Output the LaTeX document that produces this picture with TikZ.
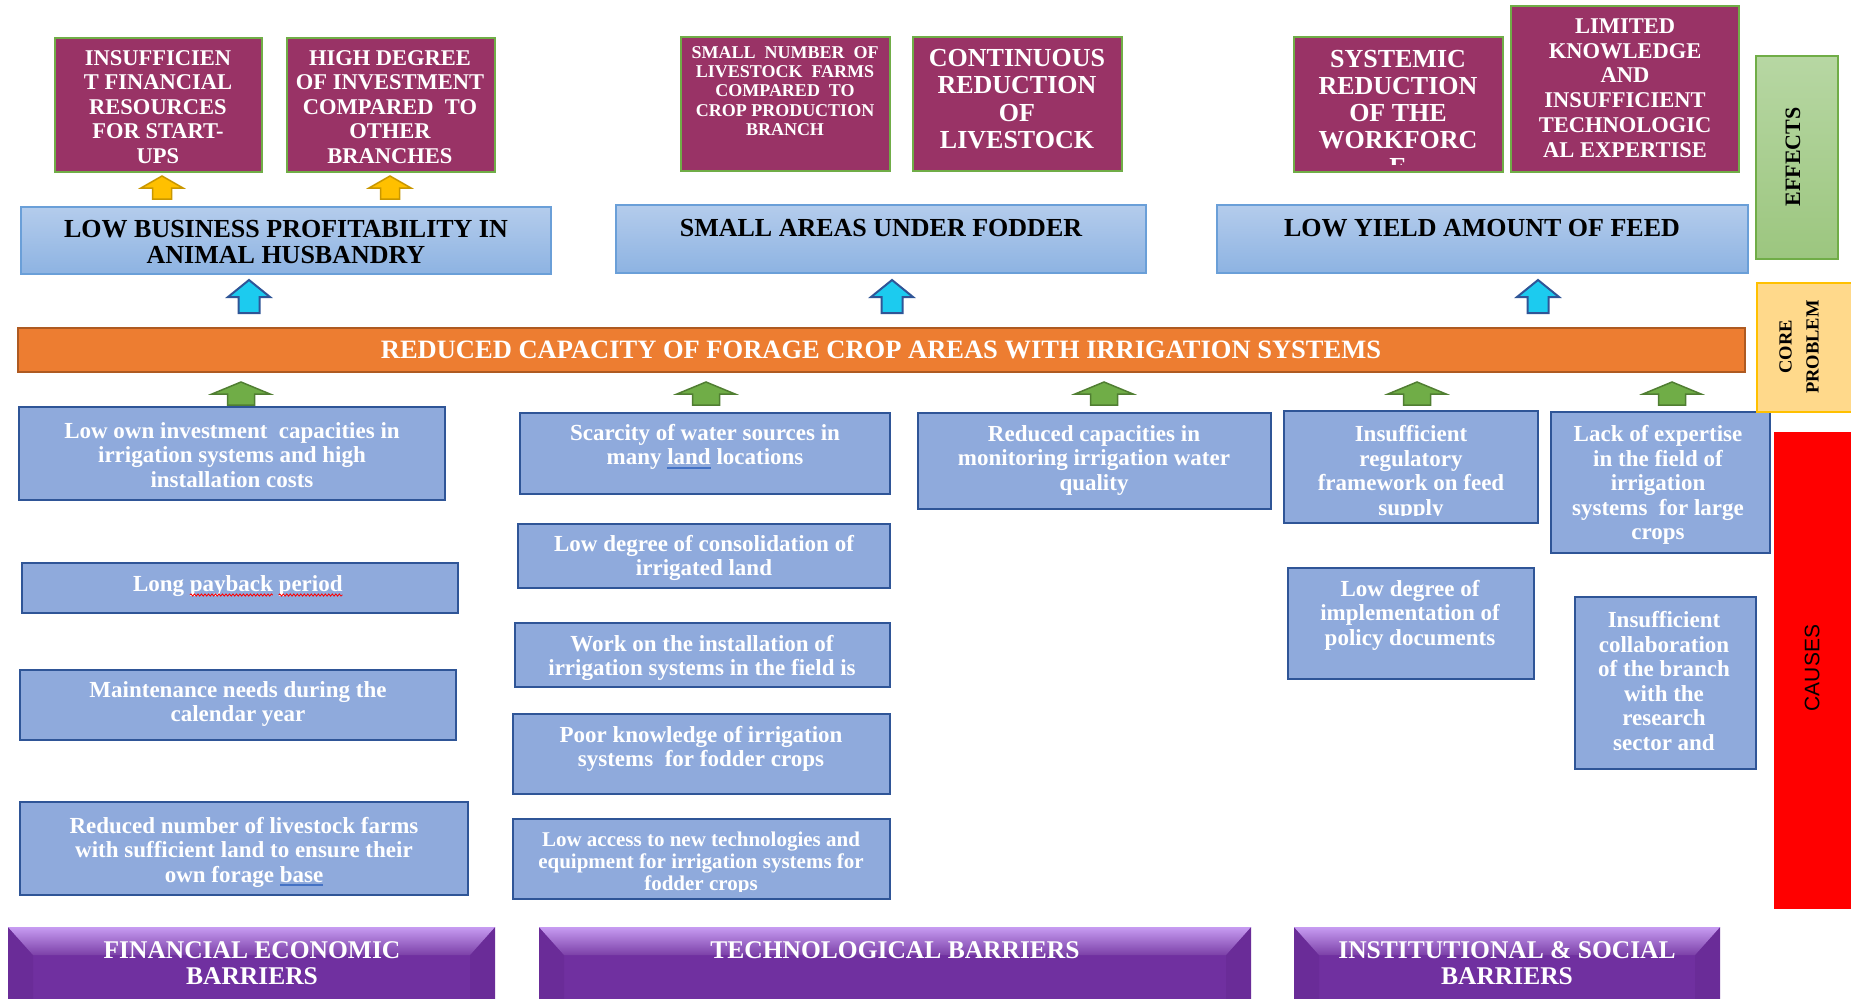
\documentclass[tikz,border=0pt]{standalone}
\usepackage{fontspec}
\setmainfont{Liberation Serif}
\newfontfamily\labelsans{Liberation Sans}
\usetikzlibrary{calc,decorations.pathmorphing}

% palette
\definecolor{effmaroon}{HTML}{993366}
\definecolor{effgreen}{HTML}{70AD47}
\definecolor{blueTop}{HTML}{B4CCEC}
\definecolor{blueBot}{HTML}{8DB3E2}
\definecolor{blueEdge}{HTML}{6A9FD8}
\definecolor{coreOrange}{HTML}{ED7D31}
\definecolor{coreEdge}{HTML}{AE5A21}
\definecolor{causeFill}{HTML}{8FAADC}
\definecolor{causeEdge}{HTML}{2F5597}
\definecolor{arrowYellow}{HTML}{FFC000}
\definecolor{arrowYellowEdge}{HTML}{C99700}
\definecolor{arrowCyan}{HTML}{1CCBEF}
\definecolor{arrowCyanEdge}{HTML}{2F5597}
\definecolor{arrowGreen}{HTML}{70AD47}
\definecolor{arrowGreenEdge}{HTML}{507E32}
\definecolor{purpleMain}{HTML}{7030A0}
\definecolor{purpleSide}{HTML}{6A2C98}
\definecolor{purpleLight}{HTML}{C79CF2}
\definecolor{effectsTop}{HTML}{B7D7A3}
\definecolor{effectsBot}{HTML}{9CC67F}
\definecolor{coreLabel}{HTML}{FFD98B}
\definecolor{coreLabelEdge}{HTML}{FFC000}
\definecolor{causesRed}{HTML}{FF0000}
\definecolor{spellBlue}{HTML}{4472C4}

% straight proofing mark under a single word
\newsavebox\markbox
\newcommand\spellline[1]{\sbox\markbox{#1}%
  \rlap{\textcolor{spellBlue}{\rule[-4pt]{\wd\markbox}{1.8pt}}}\usebox\markbox}

\newcommand\fs[2]{\fontsize{#1}{#2}\selectfont}

% text kept inside its box (overflowing lines are cut at the bottom)
\newcommand\clippedtext[4]{%
  \begin{scope}
    \clip ($(#1.north west)+(2,2)$) rectangle ($(#1.south east)+(-2,-8)$);
    \node[#2] (#1t) at #3 {#4};
  \end{scope}}

\tikzset{
  every node/.style={outer sep=0pt},
  effbox/.style={draw=effgreen, line width=2pt, fill=effmaroon, inner sep=0pt, anchor=north west},
  efftext/.style 2 args={text=white, align=center, inner sep=0pt, font=\bfseries\fs{#1}{#2}},
  resultbox/.style={draw=blueEdge, line width=1.5pt, top color=blueTop, bottom color=blueBot, inner sep=0pt, anchor=north west},
  resulttext/.style={text=black, align=center, inner sep=0pt, font=\bfseries\fs{26}{26.5}},
  corebar/.style={draw=coreEdge, line width=2pt, fill=coreOrange, inner sep=0pt, anchor=north west},
  causebox/.style={draw=causeEdge, line width=2.5pt, fill=causeFill, inner sep=0pt, anchor=north west},
  causetext/.style={text=white, align=center, inner sep=0pt, font=\bfseries\fs{23}{24.5}},
  wordtext/.style={text=white, inner sep=0pt, anchor=base west, font=\bfseries\fs{23}{24.5}},
  spellmark/.style={red, line width=0.8pt, decorate, decoration={snake, amplitude=1.1pt, segment length=3.5pt}},
  barrier/.style={fill=purpleMain, inner sep=0pt, anchor=north west},
  barriertext/.style={text=white, align=center, inner sep=0pt, font=\bfseries\fs{25.5}{26}},
  sidebox/.style={inner sep=0pt, anchor=north west, line width=2pt},
  yellowup/.style={fill=arrowYellow, draw=arrowYellowEdge, line width=1.5pt},
  cyanup/.style={fill=arrowCyan, draw=arrowCyanEdge, line width=2pt},
  greenup/.style={fill=arrowGreen, draw=arrowGreenEdge, line width=1.5pt},
  % block arrow pointing up: total height / head height / head half width / shaft half width
  pics/blockup/.style args={#1/#2/#3/#4}{code={
    \path[pic actions] (-#4,0) -- (-#4,#2-#1) -- (-#3,#2-#1) -- (0,-#1)
      -- (#3,#2-#1) -- (#4,#2-#1) -- (#4,0) -- cycle;
  }},
}

\begin{document}
\begin{tikzpicture}[x=1pt, y=-1pt]
\useasboundingbox (0,0) rectangle (1851,998);
\fill[white] (0,0) rectangle (1851,998);

% ---------- effects ----------
\node[effbox, minimum width=207pt, minimum height=134pt] (m1) at (55,38) {};
\node[effbox, minimum width=208pt, minimum height=134pt] (m2) at (287,38) {};
\node[effbox, minimum width=209pt, minimum height=134pt] (m3) at (681,37) {};
\node[effbox, minimum width=209pt, minimum height=134pt] (m4) at (913,37) {};
\node[effbox, minimum width=209pt, minimum height=135pt] (m5) at (1294,37) {};
\node[effbox, minimum width=228pt, minimum height=166pt] (m6) at (1511,6) {};

\node[efftext={22.5}{24.5}] (m1t) at (158,107) {INSUFFICIEN\\T FINANCIAL\\RESOURCES\\FOR START-\\UPS};
\node[efftext={22.5}{24.5}] (m2t) at (390,107) {HIGH DEGREE\\OF INVESTMENT\\COMPARED\ \ TO\\OTHER\\BRANCHES};
\node[efftext={18}{19.3}] (m3t) at (785,91) {SMALL\ \ NUMBER\ \ OF\\LIVESTOCK\ \ FARMS\\COMPARED\ \ TO\\CROP PRODUCTION\\BRANCH};
\node[efftext={26}{27.5}] (m4t) at (1017,99) {CONTINUOUS\\REDUCTION\\OF\\LIVESTOCK};
\clippedtext{m5}{efftext={26}{27}}{(1398,113)}{SYSTEMIC\\REDUCTION\\OF THE\\WORKFORC\\E}
\node[efftext={22.5}{24.7}] (m6t) at (1625,88) {LIMITED\\KNOWLEDGE\\AND\\INSUFFICIENT\\TECHNOLOGIC\\AL EXPERTISE};

\pic[yellowup] at (162,199) {blockup=23/12/21/9.5};
\pic[yellowup] at (390,199) {blockup=23/12/21/9.5};

\node[resultbox, minimum width=530pt, minimum height=67pt] (e1) at (21,207) {};
\node[resultbox, minimum width=530pt, minimum height=68pt] (e2) at (616,205) {};
\node[resultbox, minimum width=531pt, minimum height=68pt] (e3) at (1217,205) {};
\node[resulttext] (e1t) at (286,242) {LOW BUSINESS PROFITABILITY IN\\ANIMAL HUSBANDRY};
\node[resulttext] (e2t) at (881,228) {SMALL AREAS UNDER FODDER};
\node[resulttext] (e3t) at (1482,228) {LOW YIELD AMOUNT OF FEED};

\pic[cyanup] at (249,313) {blockup=33/17/21/10.5};
\pic[cyanup] at (892,313) {blockup=33/17/21/10.5};
\pic[cyanup] at (1538,313) {blockup=33/17/21/10.5};

% ---------- core problem ----------
\node[corebar, minimum width=1727pt, minimum height=44pt] (core) at (18,328) {};
\node[text=white, inner sep=0pt, font=\bfseries\fs{26.5}{28}] (coret) at (881,350)
  {REDUCED CAPACITY OF FORAGE CROP AREAS WITH IRRIGATION SYSTEMS};

\foreach \ax in {241,706,1104,1417,1672}
  \pic[greenup] at (\ax,405) {blockup=23/12/29/13.5};

% ---------- causes ----------
\node[causebox, minimum width=426pt, minimum height=93pt] (c11) at (19,407) {};
\node[causebox, minimum width=436pt, minimum height=50pt] (c12) at (22,563) {};
\node[causebox, minimum width=436pt, minimum height=70pt] (c13) at (20,670) {};
\node[causebox, minimum width=448pt, minimum height=93pt] (c14) at (20,802) {};

\node[causebox, minimum width=370pt, minimum height=81pt] (c21) at (520,413) {};
\node[causebox, minimum width=372pt, minimum height=64pt] (c22) at (518,524) {};
\node[causebox, minimum width=375pt, minimum height=64pt] (c23) at (515,623) {};
\node[causebox, minimum width=377pt, minimum height=80pt] (c24) at (513,714) {};
\node[causebox, minimum width=377pt, minimum height=80pt] (c25) at (513,819) {};

\node[causebox, minimum width=353pt, minimum height=96pt] (c31) at (918,413) {};

\node[causebox, minimum width=254pt, minimum height=112pt] (c41) at (1284,411) {};
\node[causebox, minimum width=246pt, minimum height=111pt] (c42) at (1288,568) {};

\node[causebox, minimum width=219pt, minimum height=141pt] (c51) at (1551,412) {};
\node[causebox, minimum width=181pt, minimum height=172pt] (c52) at (1575,597) {};

\node[causetext] (c11t) at (232,455) {Low\ own\ investment\ \ capacities\ in\\irrigation\ systems\ and high\\installation\ costs};

% one word per node so that the proofing squiggles can sit under two of them
\node[wordtext] (c12w1) at (133,591) {Long};
\node[wordtext] (c12w2) at ($(c12w1.base east)+(5.75,0)$) {payback};
\node[wordtext] (c12w3) at ($(c12w2.base east)+(5.75,0)$) {period};
\draw[spellmark] ($(c12w2.base west)+(0,4)$) -- ($(c12w2.base east)+(0,4)$);
\draw[spellmark] ($(c12w3.base west)+(0,4)$) -- ($(c12w3.base east)+(0,4)$);

\node[causetext] (c13t) at (238,704) {Maintenance\ needs\ during\ the\\calendar\ year};
\clippedtext{c14}{causetext}{(244,852)}{Reduced\ number\ of livestock\ farms\\with sufficient land to ensure\ their\\own forage \spellline{base}}

\node[causetext] (c21t) at (705,447) {Scarcity\ of water\ sources\ in\\many \spellline{land} locations};
\node[causetext] (c22t) at (704,558) {Low\ degree\ of consolidation\ of\\irrigated\ land};
\clippedtext{c23}{causetext}{(702,658)}{Work\ on the installation of\\irrigation\ systems\ in the field is}
\node[causetext] (c24t) at (701,749) {Poor knowledge\ of irrigation\\systems\ \ for fodder crops};
\clippedtext{c25}{causetext, font=\bfseries\fs{21}{22}}{(701,863)}{Low access to new technologies and\\equipment for irrigation systems for\\fodder crops}

\node[causetext] (c31t) at (1094,460) {Reduced\ capacities\ in\\monitoring irrigation\ water\\quality};

\clippedtext{c41}{causetext}{(1411,473)}{Insufficient\\regulatory\\framework\ on feed\\supply}
\node[causetext] (c42t) at (1410,615) {Low\ degree of\\implementation\ of\\policy documents};

\node[causetext] (c51t) at (1658,485) {Lack\ of expertise\\in the field of\\irrigation\\systems\ \ for large\\crops};
\clippedtext{c52}{causetext}{(1664,681)}{Insufficient\\collaboration\\of the branch\\with the\\research\\sector and}

% ---------- side labels ----------
\node[sidebox, draw=effgreen, top color=effectsTop, bottom color=effectsBot,
      minimum width=82pt, minimum height=203pt] (efflabel) at (1756,56) {};
\node[rotate=90, inner sep=0pt, font=\bfseries\fs{22}{24}] (efflabelt) at (1793,157) {EFFECTS};

\node[sidebox, draw=coreLabelEdge, fill=coreLabel,
      minimum width=110pt, minimum height=129pt] (corelabel) at (1757,283) {};
\node[rotate=90, align=center, inner sep=0pt, font=\bfseries\fs{18.5}{27}] (corelabelt) at (1799,347) {CORE\\PROBLEM};

\node[sidebox, fill=causesRed, minimum width=90pt, minimum height=477pt] (causeslabel) at (1774,432) {};
\node[rotate=90, inner sep=0pt, font=\labelsans\fs{21}{24}] (causeslabelt) at (1812,668) {CAUSES};

% ---------- barrier groups (bevelled) ----------
\node[barrier, minimum width=487pt, minimum height=80pt] (b1) at (8,927) {};
\node[barrier, minimum width=712pt, minimum height=80pt] (b2) at (539,927) {};
\node[barrier, minimum width=426pt, minimum height=80pt] (b3) at (1294,927) {};
\foreach \b in {b1,b2,b3}{
  \fill[purpleSide] (\b.north west) -- ($(\b.north west)+(25,28)$) -- ($(\b.south west)+(25,0)$) -- (\b.south west) -- cycle;
  \fill[purpleSide] (\b.north east) -- ($(\b.north east)+(-25,28)$) -- ($(\b.south east)+(-25,0)$) -- (\b.south east) -- cycle;
  \shade[top color=purpleLight, bottom color=purpleMain!92!white]
    (\b.north west) -- (\b.north east) -- ($(\b.north east)+(-25,28)$) -- ($(\b.north west)+(25,28)$) -- cycle;
}
\node[barriertext] (b1t) at (252,963) {FINANCIAL ECONOMIC\\BARRIERS};
\node[barriertext] (b2t) at (895,950) {TECHNOLOGICAL BARRIERS};
\node[barriertext] (b3t) at (1507,963) {INSTITUTIONAL \& SOCIAL\\BARRIERS};

\end{tikzpicture}
\end{document}
